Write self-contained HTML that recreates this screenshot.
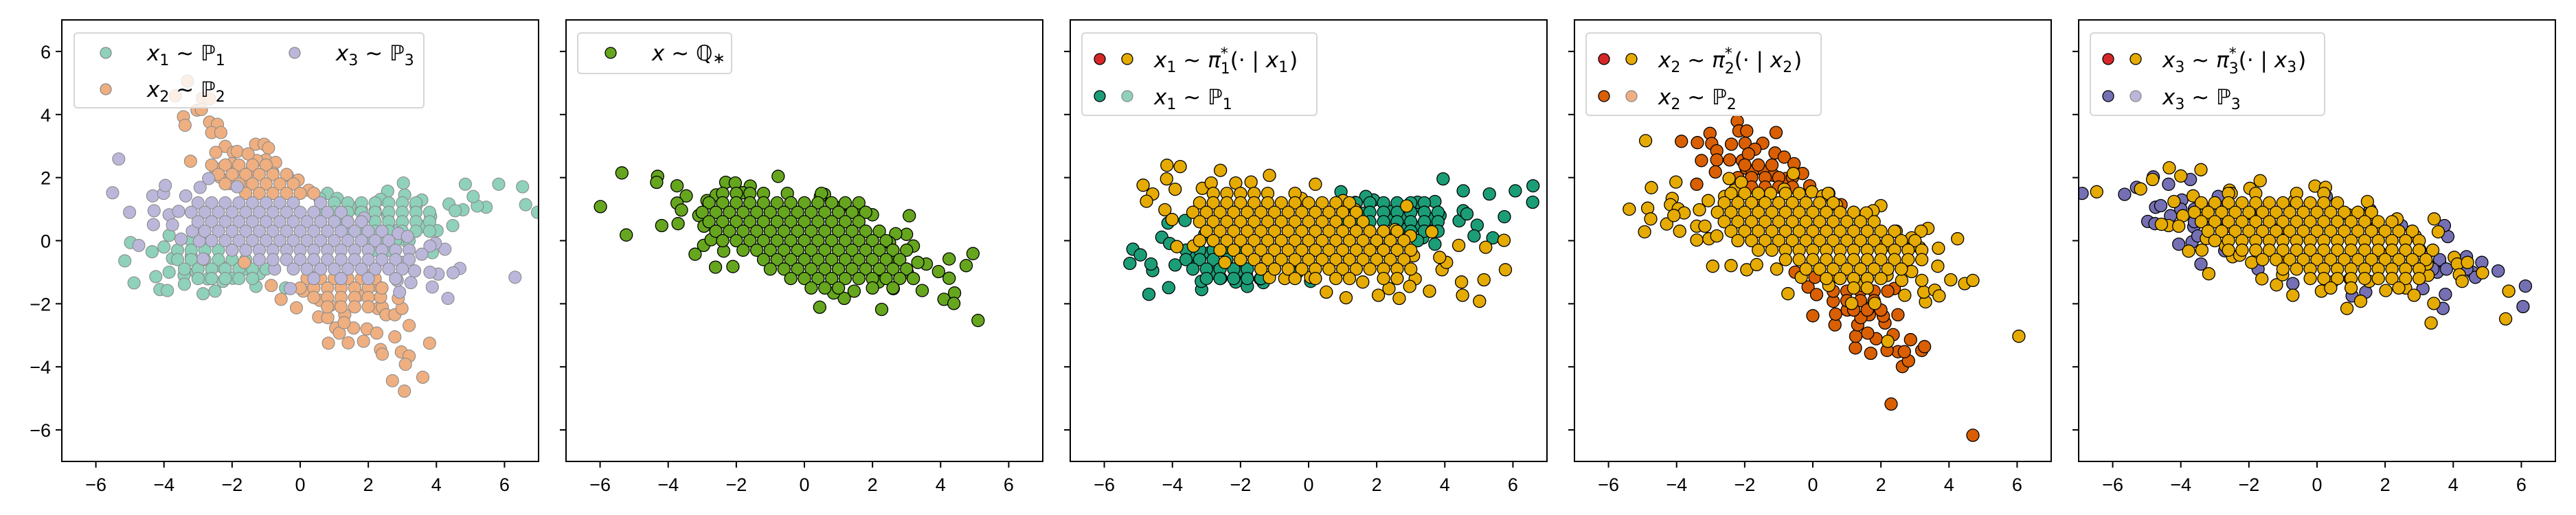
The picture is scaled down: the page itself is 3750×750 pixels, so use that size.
<!DOCTYPE html>
<html><head><meta charset="utf-8"><style>
html,body{margin:0;padding:0;background:#fff;}
svg{display:block;}
text{font-family:"Liberation Sans","DejaVu Sans",sans-serif;}
.m{font-family:"DejaVu Sans","Liberation Sans",sans-serif;}
</style></head><body>
<svg id="fig" xmlns="http://www.w3.org/2000/svg" width="3750" height="750" viewBox="0 0 3750 750"></svg>
<script>
const xTicks=[-6,-4,-2,0,2,4,6];
const yTicks=[-6,-4,-2,0,2,4,6];
const tickLabels=["\u22126","\u22124","\u22122","0","2","4","6"];

// ---- panel 1 light samples ----
const p1LightOut=[[6.97,0.9],[6.62,1.14],[6.53,1.71],[5.83,1.79],[5.46,1.06],[5.2,1.1],[5.08,1.4],[4.85,1.79],[4.78,0.98],[4.48,0.48],[4.37,1.16],[4.55,0.95],[4.02,0.32],[3.88,-0.38],[3.83,0.77],[3.6,0.45],[3.57,1.29],[3.4,1.1],[3.07,1.45],[3.03,1.83],[2.57,1.57],[2.36,1.31],[2.2,0.95],[2.57,0.8],[2.9,0.35],[3.1,0.0],
[-4.98,-0.06],[-5.15,-0.64],[-4.88,-1.34],[-4.12,-1.55],[-3.9,-1.58],[-4.35,-0.35],[-4.24,-1.14],[-3.85,0.17],[-4.0,-0.2],[-3.75,-0.56],[-3.85,-1.0],[-3.41,-1.1],[-3.4,-1.38],[-2.85,-1.68],[-2.5,-1.6],[-2.72,-1.21],[-2.27,-1.29],[-1.98,-1.19],[-1.3,-1.45],[-1.2,-1.05],[-3.05,-1.0],[-3.2,-0.5],[-2.27,-0.85],[-1.64,-0.9],[0.8,1.5],[0.57,1.34],[1.09,1.34],[1.57,1.03],[1.8,0.98],[1.3,0.56],[-0.43,-1.5]];
const p1LightCore=[[1.2,[1.0,1.4,1.8,2.2,2.6,3.0,3.4]],[0.9,[0.6,1.0,1.4,1.8,2.2,2.6,3.0,3.4,3.8]],[0.6,[1.0,1.4,1.8,2.2,2.6,3.0,3.4,3.8]],[0.3,[1.4,1.8,2.2,2.6,3.0,3.4,3.8]],[0.0,[-3.2,-2.8,2.0,2.4,2.8,3.2]],[-0.3,[-3.6,-3.2,-2.8,-2.4,-2.0,2.2,2.6]],[-0.6,[-3.6,-3.2,-2.8,-2.4,-2.0,-1.6,-1.2]],[-0.9,[-3.4,-3.0,-2.6,-2.2,-1.8,-1.4,-1.0]],[-1.2,[-3.0,-2.6,-2.2,-1.8,-1.4]]];

const p2LightOut=[[-3.31,5.06],[-3.67,4.59],[-2.87,4.52],[-2.66,4.49],[-3.43,3.93],[-3.38,3.66],[-3.03,4.14],[-2.9,4.16],[-2.66,3.76],[-2.43,3.69],[-2.6,3.43],[-2.33,3.43],[-3.22,2.52],[-2.2,2.99],[-2.48,2.8],[-1.96,2.8],[-1.85,2.83],[-1.31,3.06],[-1.06,3.06],[-0.93,2.94],[-1.01,2.56],[-0.72,2.48],[-1.27,2.54],[-1.53,2.75],[-1.43,2.23],[-0.8,2.15],[-0.38,2.07],[-0.06,1.92],[-2.5,2.3],[-2.36,2.02],[-2.0,2.44],[-1.85,2.23],[-2.06,1.81],[-1.64,1.81],[0.25,1.6],[-1.64,-0.69],[-0.85,-1.42],[-0.56,-1.86],[-0.11,-2.13],[0.09,-1.6],[0.46,-1.15],[0.57,-1.89],[0.88,-2.05],[0.54,-2.42],[0.81,-2.44],[1.04,-2.77],[1.15,-2.93],[0.83,-3.25],[1.41,-3.24],[1.57,-2.77],[1.86,-3.19],[1.96,-2.8],[2.25,-2.93],[2.28,-2.15],[1.72,-1.73],[2.41,-2.11],[2.52,-2.35],[2.78,-2.35],[2.99,-2.15],[2.88,-1.83],[2.25,-1.42],[2.36,-1.79],[2.1,-1.1],[2.36,-3.45],[2.41,-3.6],[2.78,-3.05],[2.97,-3.53],[3.2,-3.66],[3.2,-2.69],[3.09,-3.92],[2.71,-4.44],[3.06,-4.77],[3.6,-4.33],[3.8,-3.25],[1.31,-2.35],[1.29,-2.6]];
const p2LightCore=[[2.4,[-2.6,-2.2,-1.8,-1.4,-1.0]],[2.1,[-2.4,-2.0,-1.6,-1.2,-0.8,-0.4]],[1.8,[-2.2,-1.8,-1.4,-1.0,-0.6,-0.2]],[1.5,[-1.6,-1.2,-0.8,-0.4,0,0.4]],[-1.2,[0.2,0.6,1.0,1.4,1.8,2.2]],[-1.5,[0,0.4,0.8,1.2,1.6,2.0,2.4]],[-1.8,[0.4,0.8,1.2,1.6,2.0]],[-2.1,[0.8,1.2,1.6,2.0]]];

const p3LightOut=[[-5.33,2.59],[-5.51,1.52],[-5.01,0.9],[-4.74,-0.15],[-4.33,1.42],[-4.29,0.95],[-4.31,0.51],[-4.01,1.5],[-3.96,1.75],[-3.85,0.82],[-3.75,0.5],[-3.57,0.93],[-3.36,1.42],[-2.69,1.97],[-2.94,1.69],[-1.85,1.71],[6.31,-1.16],[4.34,-1.83],[4.69,-0.88],[4.49,-1.02],[4.25,-0.27],[3.97,-0.08],[3.81,-0.17],[3.88,-1.47],[4.05,-1.06],[3.81,-1.0],[3.57,-0.43],[3.36,-0.96],[3.25,-1.33],[2.92,-1.63],[2.85,-1.26],[2.99,-0.69],[2.88,0.23],[3.15,0.13],[1.88,0.72],[-0.29,-1.52],[-0.75,-0.9],[-2.96,-0.01],[-2.85,-0.58],[-3.17,0.3],[-3.5,0.05]];
const p3LightCore=[[1.2,[-3.0,-2.6,-2.2,-1.8,-1.4,-1.0,-0.6,-0.2,0.6]],[0.9,[-3.2,-2.8,-2.4,-2.0,-1.6,-1.2,-0.8,-0.4,0,0.4,0.8,1.2]],[0.6,[-3.0,-2.6,-2.2,-1.8,-1.4,-1.0,-0.6,-0.2,0.2,0.6,1.0,1.4,1.8]],[0.3,[-2.8,-2.4,-2.0,-1.6,-1.2,-0.8,-0.4,0,0.4,0.8,1.2,1.6,2.0,2.4]],[0.0,[-2.6,-2.2,-1.8,-1.4,-1.0,-0.6,-0.2,0.2,0.6,1.0,1.4,1.8,2.2,2.6]],[-0.3,[-2.0,-1.6,-1.2,-0.8,-0.4,0,0.4,0.8,1.2,1.6,2.0,2.4,2.8,3.2]],[-0.6,[-1.2,-0.8,-0.4,0,0.4,0.8,1.2,1.6,2.0,2.4,2.8,3.2]],[-0.9,[-0.2,0.2,0.6,1.0,1.4,1.8,2.2,2.6,3.0]],[-1.2,[0.4,1.2,2.0,2.8]]];

// ---- panel 2: Q* ----
const qOut=[[-5.99,1.08],[-5.36,2.15],[-5.23,0.18],[-4.31,2.04],[-4.34,1.85],[-4.19,0.48],[-3.74,1.74],[-3.47,1.42],[-3.74,1.19],[-3.61,0.97],[-3.71,0.54],[-3.21,-0.43],[-2.96,-0.15],[-2.61,-0.84],[-2.1,-0.82],[-2.37,-0.33],[-3.1,0.8],[-2.95,0.46],[-2.74,0.03],[-2.86,1.27],[-2.59,1.45],[-2.31,1.85],[-2.03,1.83],[-1.59,1.73],[-1.81,1.52],[-0.77,2.04],[0.45,-2.11],[2.27,-2.18],[5.1,-2.53],[4.95,-0.41],[4.75,-0.79],[4.25,-0.58],[4.41,-1.66],[4.1,-1.86],[4.39,-1.99],[4.25,-1.19],[3.94,-0.98],[3.58,-0.74],[3.33,-0.69],[3.46,-1.58],[3.08,0.79],[3.2,-0.17],[3.0,0.2],[2.68,0.22],[2.68,-0.61],[2.61,-1.52],[3.02,-1.0],[2.0,0.82],[1.62,0.93],[1.04,1.05],[0.59,1.47],[0.47,1.4],[1.17,-1.83],[0.86,-1.66],[1.46,-1.6],[2.18,-1.31],[2.5,-0.06]];
const qCore=[[1.5,[-2.4,-2.0,-1.6,-1.2,-0.5,0.5]],[1.2,[-2.8,-2.4,-2.0,-1.6,-1.2,-0.8,-0.4,0,0.4,0.8,1.2,1.6]],[0.9,[-3.0,-2.6,-2.2,-1.8,-1.4,-1.0,-0.6,-0.2,0.2,0.6,1.0,1.4,1.8]],[0.6,[-2.8,-2.4,-2.0,-1.6,-1.2,-0.8,-0.4,0,0.4,0.8,1.2,1.6]],[0.3,[-2.6,-2.2,-1.8,-1.4,-1.0,-0.6,-0.2,0.2,0.6,1.0,1.4,1.8,2.2]],[0.0,[-2.4,-2.0,-1.6,-1.2,-0.8,-0.4,0,0.4,0.8,1.2,1.6,2.0,2.4]],[-0.3,[-1.8,-1.4,-1.0,-0.6,-0.2,0.2,0.6,1.0,1.4,1.8,2.2,2.6,3.0]],[-0.6,[-1.2,-0.8,-0.4,0,0.4,0.8,1.2,1.6,2.0,2.4,2.8]],[-0.9,[-1.0,-0.6,-0.2,0.2,0.6,1.0,1.4,1.8,2.2,2.6,3.0]],[-1.2,[-0.4,0,0.4,0.8,1.2,1.6,2.0,2.4,2.8,3.2]],[-1.5,[0.2,0.6,1.0,2.0,2.6]]];

// ---- panel 3 ----
const p1DarkOut=[[6.59,1.74],[6.58,1.22],[6.07,1.58],[5.31,1.48],[5.75,0.76],[5.41,0.09],[4.95,0.49],[4.86,0.15],[4.54,1.58],[4.42,0.63],[4.54,0.95],[4.65,0.85],[3.95,1.96],[3.71,1.24],[3.86,0.8],[3.71,-0.11],[3.6,0.69],[3.33,1.05],[3.2,1.22],[3.35,0.09],[3.3,0.45],[2.77,0.7],[2.9,0.38],[2.42,0.93],[2.45,0.65],[1.91,1.29],[1.68,1.4],[1.37,1.21],[0.95,1.55],[1.64,0.87],
[-5.25,-0.72],[-5.16,-0.27],[-4.94,-0.45],[-4.69,-1.7],[-4.58,-0.95],[-4.63,-0.74],[-4.11,-1.49],[-4.31,0.11],[-4.08,-0.09],[-3.92,-0.77],[-3.63,0.64],[-4.13,0.56],[-3.39,-0.74],[-3.14,-1.55],[-3.15,-1.29],[-2.84,-1.03],[-2.58,-1.19],[-2.14,-1.31],[-1.8,-1.45],[-1.33,-1.33],[-1.83,-1.08],[-2.1,-0.98],[-2.91,-0.38],[-3.5,-0.48],[-3.05,0.2],[-1.42,-1.21],[-0.34,-1.02],[0.06,-1.29]];
const p1DarkCore=p1LightCore;
const pi1Out=[[-4.16,2.39],[-3.77,2.35],[-4.17,1.96],[-4.86,1.76],[-4.58,1.48],[-4.76,1.25],[-3.92,1.63],[-2.59,2.23],[-1.15,2.07],[0.2,1.79],[-4.22,0.98],[-4.01,0.67],[-3.87,-0.19],[-3.38,-0.17],[-3.12,1.66],[2.88,1.1],[3.62,0.28],[4.41,-0.15],[5.2,-0.21],[5.74,0.01],[5.78,-0.92],[5.15,-1.24],[4.49,-1.31],[4.52,-1.73],[5.02,-1.92],[3.55,-1.6],[3.92,-0.92],[4.05,-0.69],[3.85,-0.53],[2.66,-1.83],[2.05,-1.73],[1.1,-1.81],[0.52,-1.63],[3.08,-0.48],[3.13,-1.21],[2.97,-1.45],[2.36,-1.52],[2.54,0.35],[2.99,0.15],[2.0,-0.06],[1.01,1.27],[1.37,0.98],[-0.21,1.34],[-1.69,1.86],[-2.14,1.83],[-2.86,1.83],[-2.46,-0.69],[-1.15,-1.17],[-0.7,-1.2],[0.06,-1.16],[1.59,-1.31]];
const pi1Core=[[1.5,[-2.8,-2.4,-2.0,-1.6,-1.2,-0.4]],[1.2,[-3.2,-2.8,-2.4,-2.0,-1.6,-1.2,-0.8,-0.4,0,0.4,0.8,1.2]],[0.9,[-3.4,-3.0,-2.6,-2.2,-1.8,-1.4,-1.0,-0.6,-0.2,0.2,0.6,1.0,1.4]],[0.6,[-3.2,-2.8,-2.4,-2.0,-1.6,-1.2,-0.8,-0.4,0,0.4,0.8,1.2,1.6]],[0.3,[-3.0,-2.6,-2.2,-1.8,-1.4,-1.0,-0.6,-0.2,0.2,0.6,1.0,1.4,1.8,2.2,2.6]],[0.0,[-3.2,-2.8,-2.4,-2.0,-1.6,-1.2,-0.8,-0.4,0,0.4,0.8,1.2,1.6,2.0,2.4,2.8]],[-0.3,[-2.6,-2.2,-1.8,-1.4,-1.0,-0.6,-0.2,0.2,0.6,1.0,1.4,1.8,2.2,2.6,3.0]],[-0.6,[-2.0,-1.6,-1.2,-0.8,-0.4,0,0.4,0.8,1.2,1.6,2.0,2.4,2.8]],[-0.9,[-1.4,-1.0,-0.6,-0.2,0.2,0.6,1.0,1.4,1.8,2.2,2.6,3.0]],[-1.2,[-0.4,0.2,0.8,1.2,2.2,2.6]]];

// ---- panel 4 ----
const p2DarkOut=[[4.7,-6.17],[2.3,-5.18],[2.63,-3.99],[2.81,-3.81],[2.5,-3.52],[2.69,-3.52],[3.2,-3.48],[3.28,-3.36],[2.87,-3.14],[2.18,-3.48],[2.36,-2.98],[1.7,-3.57],[1.86,-3.11],[1.25,-3.4],[1.26,-3.03],[1.61,-2.93],[1.32,-2.67],[2.12,-2.61],[2.5,-2.35],[2.07,-2.39],[1.66,-2.35],[1.41,-2.44],[0.65,-2.67],[0.67,-2.33],[0,-2.38],[0.6,-1.92],[1.01,-2.2],[1.64,-2.15],[2.39,-1.52],[-0.14,-1.47],[0.06,-1.16],[-0.52,-1.0],[0.11,-1.71],
[-2.22,3.79],[-2.17,3.48],[-1.94,3.48],[-3.02,3.4],[-3.86,3.15],[-3.39,3.11],[-2.97,3.08],[-1.08,3.43],[-1.99,3.09],[-1.47,3.09],[-2.82,2.85],[-2.39,3.06],[-3.27,2.54],[-2.82,2.56],[-2.44,2.56],[-2.07,2.54],[-1.7,2.9],[-1.89,2.75],[-1.11,2.78],[-0.84,2.65],[-0.55,2.44],[-2.86,2.18],[-3.41,1.79],[-1.96,2.3],[-1.78,2.18],[-1.42,2.18],[-1.15,2.07],[-0.79,1.97],[-0.3,2.13],[-0.09,1.74],[0.83,1.14],[0.47,1.5]];
const p2DarkCore=[[2.4,[-2.0,-1.6,-1.2]],[2.0,[-2.2,-1.8,-1.4,-1.0,-0.6]],[1.7,[-1.8,-1.4,-1.0,-0.6]],[-1.2,[0.4,0.8,1.2,1.6]],[-1.6,[0.6,1.0,1.4,1.8,2.2]],[-1.9,[1.0,1.4,1.8]],[-2.2,[1.2,1.6,2.0]]];
const pi2Out=[[-4.91,3.17],[-5.39,1.0],[-4.85,1.03],[-4.76,0.69],[-4.94,0.28],[-4.74,1.68],[-4.13,1.34],[-4.02,1.86],[-4.18,1.14],[-3.95,1.01],[-3.78,0.88],[-4.29,0.53],[-3.91,0.3],[-4.08,0.8],[-3.41,0.46],[-3.41,0.02],[-3.17,0.46],[-3.05,0.06],[-2.82,0.15],[-3.33,0.98],[-3.07,1.27],[-2.94,-0.81],[-2.4,-0.79],[-1.94,-0.92],[-1.65,-0.76],[-0.73,-1.68],[-1.06,-0.9],[-0.34,-1.16],[0.51,-1.21],[0.47,-1.42],[1.14,-1.99],[1.82,-1.99],[2.2,-3.19],[2.7,-1.73],[3.31,-1.94],[3.26,-1.63],[3.58,-1.57],[3.71,-1.75],[3.2,-1.26],[2.9,-0.98],[2.61,-1.26],[4.05,-1.24],[4.46,-1.36],[4.7,-1.26],[3.67,-0.81],[3.69,-0.24],[4.25,0.06],[3.38,0.39],[3.18,0.3],[3.14,-0.22],[2.9,0.09],[6.05,-3.03],[2.0,1.11],[1.77,0.95],[1.57,0.88],[2.09,-0.17],[2.45,0.3],[1.46,-1.42],[2.18,-1.1],[-0.57,2.13],[-0.84,1.63],[-0.03,1.55],[0.29,1.42],[0.45,1.5],[0.69,1.14],[-2.46,1.97],[-2.3,1.6],[-2.59,1.4],[-2.1,1.85],[-1.56,1.34],[-1.24,1.5]];
const pi2Core=[[1.5,[-2.4,-2.0,-1.6,-0.8,-0.4]],[1.2,[-2.6,-2.2,-1.8,-1.4,-1.0,-0.6,-0.2,0.2,0.6]],[0.9,[-2.8,-2.4,-2.0,-1.6,-1.2,-0.8,-0.4,0,0.4,0.8,1.2]],[0.6,[-2.6,-2.2,-1.8,-1.4,-1.0,-0.6,-0.2,0.2,0.6,1.0,1.4,1.8]],[0.3,[-2.4,-2.0,-1.6,-1.2,-0.8,-0.4,0,0.4,0.8,1.2,1.6,2.0,2.4]],[0.0,[-2.2,-1.8,-1.4,-1.0,-0.6,-0.2,0.2,0.6,1.0,1.4,1.8,2.2,2.6,3.0]],[-0.3,[-1.6,-1.2,-0.8,-0.4,0,0.4,0.8,1.2,1.6,2.0,2.4,2.8,3.2]],[-0.6,[-0.8,-0.4,0,0.4,0.8,1.2,1.6,2.0,2.4,2.8,3.2]],[-0.9,[-0.2,0.2,0.6,1.0,1.4,1.8,2.2,2.6]],[-1.2,[0.4,0.8,1.2,1.6,2.0]],[-1.5,[1.2,1.6]]];

// ---- panel 5 ----
const p3DarkOut=[[-6.9,1.5],[-5.65,1.47],[-5.3,1.69],[-4.81,2.02],[-4.36,1.79],[-3.72,1.94],[-4.97,0.61],[-4.76,0.54],[-4.74,1.06],[-4.59,1.11],[-4.3,0.79],[-3.97,1.29],[-4.06,-0.11],[-3.67,-0.04],[-3.62,0.44],[-3.41,-0.74],[-3.5,0.15],[6.12,-1.44],[6.05,-2.09],[5.32,-0.96],[4.84,-0.69],[4.39,-0.51],[4.56,-1.0],[4.65,-1.16],[3.77,-1.7],[3.7,-2.15],[3.84,0.13],[3.74,0.48],[2.48,0.48],[3.53,-1.0],[3.11,-1.52],[3.6,-0.64],[1.03,-1.75],[1.43,-1.63],[1.56,0.98],[0.27,1.4],[-0.71,-1.36],[-1.73,-0.9],[-2.71,-0.32],[-2.9,1.4]];
const p3DarkCore=[[1.0,[-4.0,-3.6,-3.2,-2.8]],[0.6,[-3.6,-3.2,-2.8]],[-0.6,[2.8,3.2,3.6]],[-0.9,[3.0,3.4,3.8,4.4]]];
const pi3Out=[[-6.47,1.55],[-5.18,1.64],[-4.83,1.94],[-4.34,2.31],[-4.0,2.05],[-3.41,2.25],[-4.2,1.24],[-3.94,0.79],[-4.36,0.48],[-4.57,0.52],[-4.06,0.46],[-3.77,-0.33],[-3.38,-0.3],[-3.18,-1.05],[-3.34,0.72],[-3.25,0.07],[-2.69,-0.17],[-2.48,-0.51],[-2.27,-0.46],[-1.92,-0.69],[-1.62,-1.21],[-1.19,-1.4],[-1.01,-1.08],[-0.71,-1.73],[0.13,-1.6],[0.45,-1.31],[0.88,-2.15],[1.28,-1.92],[1.53,-1.29],[2.02,-1.58],[2.6,-1.5],[2.85,-1.73],[3.35,-2.61],[3.43,-1.99],[3.26,-1.1],[3.23,-0.74],[3.02,-0.29],[3.56,0.28],[3.44,0.69],[4.03,-0.53],[4.12,-0.74],[4.18,-1.08],[4.26,-1.29],[4.42,-0.69],[4.86,-1.02],[5.63,-1.6],[5.54,-2.48],[2.35,0.69],[1.48,1.24],[1.53,0.82],[-0.06,1.73],[0.25,1.69],[-1.67,1.9],[-2.57,1.6],[-2.52,1.5],[-1.97,1.66],[-3.64,1.42],[-0.66,1.27],[0.92,0.82],[2.88,0.15],[1.76,0.46],[1.85,-0.38],[0.97,-1.21],[-0.94,-0.58],[-1.13,0.35],[-1.97,0.87],[-2.62,0.46]];
const pi3Core=[[1.5,[-2.6,-1.8,-0.6,0.2]],[1.2,[-3.4,-3.0,-2.6,-2.2,-1.8,-1.4,-1.0,-0.6,-0.2,0.2,0.6]],[0.9,[-3.6,-3.2,-2.8,-2.4,-2.0,-1.6,-1.2,-0.8,-0.4,0,0.4,0.8,1.2,1.6]],[0.6,[-3.4,-3.0,-2.6,-2.2,-1.8,-1.4,-1.0,-0.6,-0.2,0.2,0.6,1.0,1.4,1.8,2.2]],[0.3,[-3.2,-2.8,-2.4,-2.0,-1.6,-1.2,-0.8,-0.4,0,0.4,0.8,1.2,1.6,2.0,2.4,2.8]],[0.0,[-3.0,-2.6,-2.2,-1.8,-1.4,-1.0,-0.6,-0.2,0.2,0.6,1.0,1.4,1.8,2.2,2.6,3.0]],[-0.3,[-2.6,-2.2,-1.8,-1.4,-1.0,-0.6,-0.2,0.2,0.6,1.0,1.4,1.8,2.2,2.6,3.0,3.4]],[-0.6,[-1.6,-1.2,-0.8,-0.4,0,0.4,0.8,1.2,1.6,2.0,2.4,2.8,3.2]],[-0.9,[-1.0,-0.6,-0.2,0.2,0.6,1.0,1.4,1.8,2.2,2.6,3.0]],[-1.2,[-0.2,0.2,0.6,1.0,1.4,1.8,2.2,2.6,3.0]],[-1.5,[0.4,1.0,2.4]]];

const NS="http://www.w3.org/2000/svg";
const svg=document.getElementById('fig');
const AX_L=90, AX_STEP=734, AX_W=694, AX_T=29, AX_B=672;
function sx(i,x){return AX_L+i*AX_STEP+(x+7)*AX_W/14;}
function sy(y){return AX_T+(7-y)*(AX_B-AX_T)/14;}
function mk(tag,attrs,parent){const e=document.createElementNS(NS,tag);for(const k in attrs)e.setAttribute(k,attrs[k]);(parent||svg).appendChild(e);return e;}
function expand(out,core){const pts=out.slice();core.forEach(r=>r[1].forEach(x=>pts.push([x,r[0]])));return pts;}

const panels=[
 {series:[{pts:expand(p1LightOut,p1LightCore),fill:"#8fd1bb",stroke:"#8a8a8a",name:"p1-samples"},{pts:expand(p2LightOut,p2LightCore),fill:"#efaf80",stroke:"#8a8a8a",name:"p2-samples"},{pts:expand(p3LightOut,p3LightCore),fill:"#bbb7da",stroke:"#8a8a8a",name:"p3-samples"}]},
 {series:[{pts:expand(qOut,qCore),fill:"#66a61e",stroke:"#000",name:"q-star-samples"}]},
 {series:[{pts:expand(p1DarkOut,p1DarkCore),fill:"#1b9e77",stroke:"#000",name:"p1-samples"},{pts:expand(pi1Out,pi1Core),fill:"#e6ab02",stroke:"#000",name:"pi1-samples"}]},
 {series:[{pts:expand(p2DarkOut,p2DarkCore),fill:"#d95f02",stroke:"#000",name:"p2-samples"},{pts:expand(pi2Out,pi2Core),fill:"#e6ab02",stroke:"#000",name:"pi2-samples"}]},
 {series:[{pts:expand(p3DarkOut,p3DarkCore),fill:"#7570b3",stroke:"#000",name:"p3-samples"},{pts:expand(pi3Out,pi3Core),fill:"#e6ab02",stroke:"#000",name:"pi3-samples"}]}
];

const defs=mk('defs',{});
panels.forEach((p,i)=>{
  const cp=mk('clipPath',{id:'clip'+i},defs);
  mk('rect',{x:AX_L+i*AX_STEP,y:AX_T,width:AX_W,height:AX_B-AX_T},cp);
  const g=mk('g',{});
  
  
  const pg=mk('g',{'clip-path':'url(#clip'+i+')'},g);
  p.series.forEach(s=>{
    const sg=mk('g',{fill:s.fill,stroke:s.stroke,'stroke-width':(s.stroke==="#000"?1.3:1.1)},pg);
    
    
    s.pts.forEach(pt=>{
      const c=mk('circle',{cx:sx(i,pt[0]).toFixed(1),cy:sy(pt[1]).toFixed(1),r:9},sg);
      
      
    });
  });
  const fr=mk('rect',{x:AX_L+i*AX_STEP,y:AX_T,width:AX_W,height:AX_B-AX_T,fill:'none',stroke:'#000','stroke-width':2},g);
  
  
  xTicks.forEach((t,k)=>{
    const x=sx(i,t);
    const tk=mk('line',{x1:x,x2:x,y1:AX_B,y2:AX_B+9,stroke:'#000','stroke-width':2},g);
    
    
    const tl=mk('text',{x:x,y:AX_B+43,'font-size':27,'text-anchor':'middle'},g);
    tl.textContent=tickLabels[k];
    
    
  });
  yTicks.forEach((t,k)=>{
    const y=sy(t);
    const x0=AX_L+i*AX_STEP;
    const tk=mk('line',{x1:x0-9,x2:x0,y1:y,y2:y,stroke:'#000','stroke-width':2},g);
    
    
    if(i===0){
      const tl=mk('text',{x:x0-16,y:y+10,'font-size':27,'text-anchor':'end'},g);
      tl.textContent=tickLabels[k];
      
      
    }
  });
});

// legends
function legendBox(x,y,w,h,name){
  const g=mk('g',{});
  
  
  mk('rect',{x:x,y:y,width:w,height:h,rx:5,fill:'#fff','fill-opacity':0.8,stroke:'#d6d6d6','stroke-width':2},g);
  return g;
}
function dot(g,x,y,fill,stroke,name){
  const c=mk('circle',{cx:x,cy:y,r:8,fill:fill,stroke:stroke,'stroke-width':1.3},g);
  
  
}
function label(g,x,y,html,name){
  const t=mk('text',{x:x,y:y,'font-size':31,class:'m'},g);
  t.innerHTML=html;
  
  
}
const SUB=(s)=>'<tspan dy="7" font-size="22">'+s+'</tspan><tspan dy="-7"> </tspan>';
// panel 1
let lg=legendBox(108,48,509,109,'legend');
dot(lg,154,77,'#8fd1bb','#8a8a8a','legend-marker-p1');
label(lg,214,88,'<tspan font-style="italic">x</tspan>'+SUB('1')+'~ ℙ'+SUB('1'),'legend-entry-p1');
dot(lg,154,130,'#efaf80','#8a8a8a','legend-marker-p2');
label(lg,214,141,'<tspan font-style="italic">x</tspan>'+SUB('2')+'~ ℙ'+SUB('2'),'legend-entry-p2');
dot(lg,429,77,'#bbb7da','#8a8a8a','legend-marker-p3');
label(lg,489,88,'<tspan font-style="italic">x</tspan>'+SUB('3')+'~ ℙ'+SUB('3'),'legend-entry-p3');
// panel 2
lg=legendBox(841,48,224,59,'legend');
dot(lg,889,77,'#66a61e','#000','legend-marker-q');
label(lg,949,88,'<tspan font-style="italic">x</tspan> ~ ℚ<tspan dy="4" font-size="22">∗</tspan>','legend-entry-q');
// panels 3-5
const cond=[["1","#1b9e77","#8fd1bb","#8a8a8a"],["2","#d95f02","#efaf80","#8a8a8a"],["3","#7570b3","#bbb7da","#8a8a8a"]];
cond.forEach((c,j)=>{
  const off=1558+j*AX_STEP;
  const w=(j===2)?341:342;
  const g=legendBox(off+17,48,w,120,'legend');
  dot(g,off+43,86,'#d62728','#000','legend-marker-red');
  dot(g,off+83,86,'#e6ab02','#000','legend-marker-pi');
  label(g,off+122,98,'<tspan font-style="italic">x</tspan>'+SUB(c[0])+'~ <tspan font-style="italic">π</tspan><tspan dy="-13" font-size="22">*</tspan><tspan dx="-11" dy="22" font-size="22">'+c[0]+'</tspan><tspan dy="-9">(· | </tspan><tspan font-style="italic">x</tspan>'+SUB(c[0])+'<tspan dx="-8">)</tspan>','legend-entry-pi'+c[0]);
  dot(g,off+43,140,c[1],'#000','legend-marker-dark');
  dot(g,off+83,140,c[2],c[3],'legend-marker-light');
  label(g,off+122,152,'<tspan font-style="italic">x</tspan>'+SUB(c[0])+'~ ℙ'+SUB(c[0]),'legend-entry-p'+c[0]);
});
</script>
</body></html>
